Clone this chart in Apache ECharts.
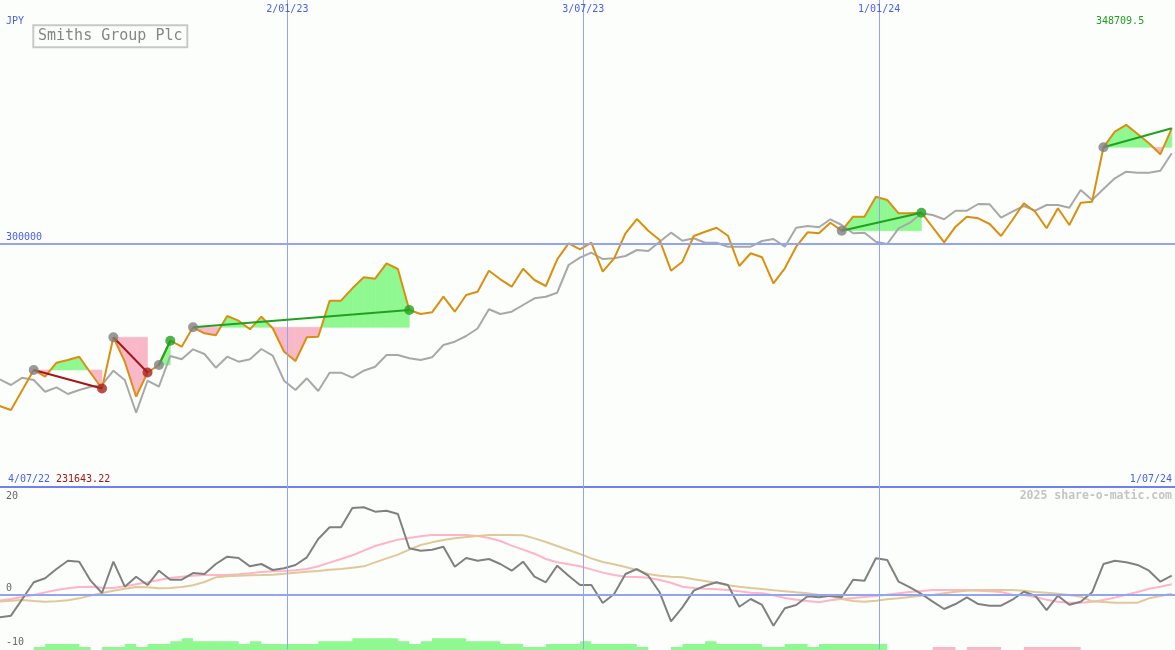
<!DOCTYPE html>
<html><head><meta charset="utf-8">
<script src="https://cdn.jsdelivr.net/npm/echarts@6/dist/echarts.min.js"></script>
<style>html,body{margin:0;padding:0;background:#fcfefc;}#c{width:1175px;height:650px;}</style>
</head><body><div id="c"></div>
<script>
// ---------- data ----------
const currency = 'JPY';
const title = 'Smiths Group Plc';
const credit = '2025 share-o-matic.com';
const firstWeek = [2022, 7, 9];           // first weekly point (y, m, d)
const price = [
 233260, 231643.22, 239840, 248050, 245300, 251050, 252160, 253510, 246820, 240450,
 261480, 251460, 237090, 247020, 250100, 260080, 257620, 265580, 263120, 262300,
 270220, 268300, 264760, 269940, 265170, 255560, 251740, 261480, 261720, 276510,
 276510, 281600, 286120, 285540, 291870, 289530, 272690, 271050, 271740, 278150,
 271990, 278850, 280200, 288830, 285300, 282260, 289650, 285010, 282550, 293510,
 300080, 297620, 300330, 288420, 293920, 304190, 310060, 305260, 301440, 288830,
 292520, 303080, 304840, 306490, 303200, 290760, 295980, 294330, 283660, 289820,
 298680, 304600, 304190, 308540, 305260, 311010, 311010, 319220, 317860, 312400,
 312400, 312650, 306650, 300490, 306900, 311010, 310350, 308010, 303080, 309650,
 316510, 313060, 306240, 314460, 307600, 316760, 317170, 339510, 345910, 348709.5,
 344970, 341150, 336630, 347310];
const relative = [
 244230, 241890, 244890, 243940, 239140, 240940, 238190, 239840, 241190, 241890,
 247760, 243940, 230510, 243650, 241190, 253800, 252440, 256550, 254620, 248990,
 253510, 251460, 252440, 256670, 253920, 243650, 239840, 244640, 239420, 246940,
 246940, 244890, 247760, 249400, 254210, 254210, 252850, 252160, 253260, 258320,
 259670, 262010, 265090, 272980, 271050, 271990, 274740, 277490, 278150, 279790,
 291170, 294170, 296220, 293630, 293920, 294870, 297330, 296920, 300740, 304440,
 301150, 302140, 300330, 300330, 298690, 298690, 298690, 301030, 301850, 298690,
 306490, 307190, 306650, 309940, 307600, 304190, 304440, 300740, 299790, 306240,
 308540, 312400, 311700, 309940, 313470, 313470, 316220, 316100, 310600, 313060,
 315400, 313470, 315810, 315810, 314700, 321970, 317860, 322380, 326780, 329490,
 329080, 329080, 329900, 337040];
const momentum = [
 -4.13, -3.83, -0.74, 2.35, 3.09, 4.81, 6.35, 6.17, 2.65, 0.37,
 6.17, 1.54, 3.39, 1.85, 4.5, 2.83, 2.83, 4.07, 3.89, 5.74,
 7.09, 6.85, 5.31, 5.74, 4.63, 4.94, 5.56, 6.98, 10.37, 12.54,
 12.54, 16.11, 16.24, 15.43, 15.61, 15.0, 8.65, 8.2, 8.39, 8.94,
 5.24, 6.85, 6.35, 6.67, 5.74, 4.5, 6.17, 3.39, 2.35, 5.43,
 3.57, 1.85, 1.85, -1.48, 0.19, 3.89, 4.81, 3.57, 0.5, -4.87,
 -2.28, 0.8, 1.72, 2.35, 1.85, -2.17, -0.74, -1.85, -5.69, -2.46,
 -1.85, -0.24, -0.43, -0.13, -0.43, 2.83, 2.65, 6.8, 6.48, 2.46,
 1.43, 0.19, -1.24, -2.59, -1.67, -0.43, -1.67, -1.98, -1.98, -0.87,
 0.61, -0.13, -2.78, -0.13, -1.8, -1.24, 0.5, 5.74, 6.35, 6.06,
 5.56, 4.5, 2.46, 3.57];
const maFast = [
 -1.05, -0.74, -0.37, 0, 0.49, 0.93, 1.23, 1.48, 1.54, 1.36,
 1.3, 1.6, 1.98, 2.35, 2.78, 3.15, 3.4, 3.58, 3.7, 3.7,
 3.7, 3.83, 4.01, 4.26, 4.38, 4.44, 4.57, 4.81, 5.31, 5.99,
 6.67, 7.35, 8.21, 9.07, 9.69, 10.25, 10.56, 10.86, 11.11, 11.11,
 11.11, 11.11, 10.93, 10.56, 10.0, 9.14, 8.4, 7.65, 6.67, 6.05,
 5.68, 5.31, 4.75, 4.14, 3.7, 3.4, 3.33, 3.21, 2.78, 2.28,
 1.54, 1.3, 1.17, 1.05, 0.93, 0.68, 0.43, 0.31, -0.06, -0.56,
 -0.86, -1.11, -1.36, -0.99, -0.74, -0.56, -0.37, -0.19, 0.06, 0.31,
 0.56, 0.74, 0.93, 0.93, 0.93, 0.93, 0.8, 0.68, 0.56, 0.06,
 0, -0.37, -0.86, -1.23, -1.42, -1.42, -1.23, -0.93, -0.49, 0.06,
 0.56, 1.17, 1.54, 1.98];
const maSlow = [
 -1.23, -1.05, -0.93, -1.11, -1.23, -1.17, -0.99, -0.62, -0.12, 0.37,
 0.8, 1.17, 1.48, 1.42, 1.23, 1.3, 1.48, 1.79, 2.41, 3.27,
 3.46, 3.58, 3.64, 3.7, 3.77, 3.95, 4.14, 4.32, 4.44, 4.69,
 4.81, 5.06, 5.31, 6.05, 6.79, 7.47, 8.4, 9.26, 9.75, 10.19,
 10.49, 10.74, 10.93, 11.11, 11.11, 11.11, 11.05, 10.49, 9.81, 9.07,
 8.33, 7.59, 6.79, 6.11, 5.68, 5.19, 4.63, 3.89, 3.58, 3.4,
 3.27, 2.9, 2.59, 2.22, 1.79, 1.54, 1.3, 1.11, 0.86, 0.68,
 0.49, 0.31, 0, -0.25, -0.74, -1.11, -1.23, -1.05, -0.8, -0.62,
 -0.37, -0.12, 0, 0.31, 0.62, 0.8, 0.93, 0.93, 0.93, 0.93,
 0.8, 0.56, 0.43, 0.25, 0, -0.31, -1.17, -1.3, -1.42, -1.42,
 -1.42, -0.62, -0.19, 0.25];
const barUp = [
 0,0,0,1,2,2,2,1,0,1,
 1,2,1,2,2,3,4,3,3,3,
 3,2,3,2,2,2,2,2,3,3,
 3,4,4,4,4,3,2,3,4,4,
 4,3,3,3,2,2,1,1,2,2,
 2,3,2,2,2,2,1,0,0,1,
 2,2,3,2,2,2,2,1,1,2,
 2,1,2,2,2,2,2,2,0,0,
 0,0,0,0,0,0,0,0,0,0,
 0,0,0,0,0,0,0,0,0,0,
 0,0,0,0];
const barDown = [
 0,0,0,0,0,0,0,0,0,0,
 0,0,0,0,0,0,0,0,0,0,
 0,0,0,0,0,0,0,0,0,0,
 0,0,0,0,0,0,0,0,0,0,
 0,0,0,0,0,0,0,0,0,0,
 0,0,0,0,0,0,0,0,0,0,
 0,0,0,0,0,0,0,0,0,0,
 0,0,0,0,0,0,0,0,0,0,
 0,0,1,1,0,1,1,1,0,0,
 1,1,1,1,1,0,0,0,0,0,
 0,0,0,0];
// signals: index into the weekly arrays
const signalStart  = [3, 10, 14, 17, 74, 97];
const signalEnd    = [9, 13, 15, 36, 81, 103];
const signalUp     = [false, false, true, true, true, true];
const signalClosed = [true, true, true, true, true, false];
const gridDates = ['2023-01-02', '2023-07-03', '2024-01-01'];
const rangeLabels = ['4/07/22', '1/07/24'];
const priceLevel = 300000;
const lowerTicks = [20, 0, -10];

// ---------- build ----------
const DAY = 86400000;
const t0 = Date.UTC(firstWeek[0], firstWeek[1] - 1, firstWeek[2]);
const dates = price.map((_, i) => t0 + i * 7 * DAY);
const xMin = Date.UTC(2022, 6, 9, 6), xMax = Date.UTC(2024, 6, 1);
const isoTs = s => { const p = s.split('-').map(Number); return Date.UTC(p[0], p[1] - 1, p[2]); };
const fmtDate = s => { const p = s.split('-'); return parseInt(p[2], 10) + '/' + p[1] + '/' + p[0].slice(2); };
const pair = arr => arr.map((v, i) => [dates[i], v]);

const C = {
  orange: '#d99010', gray: '#a8a8a8', dgray: '#808080', pink: '#ffb4c8', tan: '#e0c898',
  gFill: '#90f890', pFill: '#f8b8c8', gLine: '#22a022', rLine: '#a01818',
  grid: '#94a4f0', sep: '#7080f0', blue: '#4a5ee8'
};
const FONT = '"DejaVu Sans Mono", monospace';

const fillData = [];
signalStart.forEach((s, j) => {
  for (let k = s; k < signalEnd[j]; k++) fillData.push([dates[k], price[k], dates[k + 1], price[k + 1], price[s]]);
});

function fillItem(params, api) {
  const a = api.value(0), va = api.value(1), b = api.value(2), vb = api.value(3), base = api.value(4);
  const P = (t, v) => api.coord([t, v]);
  const da = va - base, db = vb - base;
  const poly = (pts, col) => ({ type: 'polygon', shape: { points: pts }, style: { fill: col, stroke: col, lineWidth: 0.6 } });
  const ch = [];
  if (da * db >= 0) {
    const col = (da + db) >= 0 ? C.gFill : C.pFill;
    ch.push(poly([P(a, base), P(a, va), P(b, vb), P(b, base)], col));
  } else {
    const f = da / (da - db), tc = a + f * (b - a);
    ch.push(poly([P(a, base), P(a, va), P(tc, base)], da > 0 ? C.gFill : C.pFill));
    ch.push(poly([P(tc, base), P(b, vb), P(b, base)], db > 0 ? C.gFill : C.pFill));
  }
  return { type: 'group', children: ch };
}

const trendSeries = signalStart.map((s, j) => ({
  type: 'line', xAxisIndex: 0, yAxisIndex: 0, z: 5, showSymbol: false, silent: true,
  data: [[dates[s], price[s]], [dates[signalEnd[j]], price[signalEnd[j]]]],
  lineStyle: { color: signalUp[j] ? C.gLine : C.rLine, width: 2 }
}));
const dots = [];
signalStart.forEach((s, j) => {
  dots.push({ value: [dates[s], price[s]], itemStyle: { color: C.dgray } });
  if (signalClosed[j]) dots.push({ value: [dates[signalEnd[j]], price[signalEnd[j]]], itemStyle: { color: signalUp[j] ? C.gLine : '#a82222' } });
});

const vLines = gridDates.map(d => ({ xAxis: isoTs(d) }));
const mk = (extra) => ({
  silent: true, symbol: ['none', 'none'], label: { show: false }, animation: false,
  lineStyle: { color: C.grid, width: 1, type: 'solid' }, emphasis: { disabled: true },
  data: vLines.concat(extra)
});

const chart = echarts.init(document.getElementById('c'), null, { renderer: 'canvas' });
chart.setOption({
  animation: false,
  backgroundColor: '#fcfefc',
  grid: [
    { left: 0, right: 0, top: 0, height: 487 },
    { left: 0, right: 0, top: 487, height: 162 },
    { left: 0, right: 0, top: 600, height: 50 }
  ],
  xAxis: [
    { type: 'time', gridIndex: 0, min: xMin, max: xMax, axisLabel: { show: false }, axisTick: { show: false }, splitLine: { show: false },
      axisLine: { show: true, lineStyle: { color: C.sep, width: 2 } } },
    { type: 'time', gridIndex: 1, min: xMin, max: xMax, show: false },
    { type: 'time', gridIndex: 2, min: xMin, max: xMax, show: false }
  ],
  yAxis: [
    { type: 'value', gridIndex: 0, min: 200000, max: 400000, show: false },
    { type: 'value', gridIndex: 1, min: -10, max: 20, show: false },
    { type: 'value', gridIndex: 2, min: 0, max: 17, show: false }
  ],
  series: [
    { type: 'custom', xAxisIndex: 0, yAxisIndex: 0, z: 1, silent: true, renderItem: fillItem,
      encode: { x: [0, 2], y: [1, 3, 4] }, data: fillData },
    { type: 'line', xAxisIndex: 0, yAxisIndex: 0, z: 3, showSymbol: false, silent: true, data: pair(relative),
      lineStyle: { color: C.gray, width: 2 }, markLine: mk([{ yAxis: priceLevel, lineStyle: { width: 2 } }]) },
    { type: 'line', xAxisIndex: 0, yAxisIndex: 0, z: 4, showSymbol: false, silent: true, data: pair(price),
      lineStyle: { color: C.orange, width: 2 } },
    ...trendSeries,
    { type: 'scatter', xAxisIndex: 0, yAxisIndex: 0, z: 6, symbolSize: 10, silent: true, data: dots },
    { type: 'line', xAxisIndex: 2, yAxisIndex: 2, z: 1, step: 'end', showSymbol: false, silent: true, data: pair(barUp),
      lineStyle: { width: 0, opacity: 0 }, areaStyle: { color: C.gFill, opacity: 1 } },
    { type: 'line', xAxisIndex: 2, yAxisIndex: 2, z: 1, step: 'end', showSymbol: false, silent: true, data: pair(barDown),
      lineStyle: { width: 0, opacity: 0 }, areaStyle: { color: C.pFill, opacity: 1 } },
    { type: 'line', xAxisIndex: 1, yAxisIndex: 1, z: 3, showSymbol: false, silent: true, data: pair(maFast),
      lineStyle: { color: C.pink, width: 2 }, markLine: mk([{ yAxis: 0, lineStyle: { width: 2 } }]) },
    { type: 'line', xAxisIndex: 1, yAxisIndex: 1, z: 3, showSymbol: false, silent: true, data: pair(maSlow),
      lineStyle: { color: C.tan, width: 2 } },
    { type: 'line', xAxisIndex: 1, yAxisIndex: 1, z: 4, showSymbol: false, silent: true, data: pair(momentum),
      lineStyle: { color: C.dgray, width: 2 } }
  ]
});

// ---------- text ----------
const txt = (x, y, text, color, size, align, weight) => ({
  type: 'text', x: x, y: y, silent: true, z: 100,
  style: { text: text, fill: color, font: (weight || 'normal') + ' ' + size + 'px ' + FONT,
    align: align || 'left', verticalAlign: 'middle', textAlign: align || 'left', textVerticalAlign: 'middle' }
});
const g = [];
gridDates.forEach(d => {
  const x = chart.convertToPixel({ xAxisIndex: 0 }, isoTs(d));
  g.push(txt(x, 9, fmtDate(d), C.blue, 10, 'center'));
});
g.push(txt(6, 21, currency, C.blue, 10));
g.push({ type: 'rect', z: 99, silent: true, shape: { x: 33.3, y: 25.3, width: 154, height: 22 },
  style: { fill: '#fcfefc', stroke: '#c8c8c8', lineWidth: 2 } });
g.push(txt(38, 36.5, title, '#858585', 15));
const yLevel = chart.convertToPixel({ yAxisIndex: 0 }, priceLevel);
g.push(txt(6, yLevel - 6, String(priceLevel), C.blue, 10));
const pMax = Math.max.apply(null, price), pMin = Math.min.apply(null, price);
g.push(txt(1096, 21, String(pMax), C.gLine, 10));
g.push(txt(8, 479, rangeLabels[0], C.blue, 10));
g.push(txt(56, 479, String(pMin), C.rLine, 10));
g.push(txt(1172, 479, rangeLabels[1], C.blue, 10, 'right'));
g.push(txt(1172, 496, credit, '#c4c4c4', 11.5, 'right', 'bold'));
lowerTicks.forEach(v => {
  const y = chart.convertToPixel({ yAxisIndex: 1 }, v);
  g.push(txt(6, Math.max(y - 7, 487 + 9), String(v), '#666666', 10));
});
chart.setOption({ graphic: g });
</script></body></html>
